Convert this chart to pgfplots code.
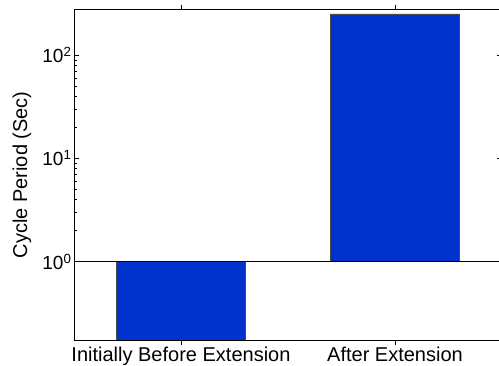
\documentclass[border=0pt]{standalone}
\usepackage{pgfplots}
\pgfplotsset{compat=1.18}
\usepackage{fontspec}
\setmainfont{Liberation Sans}
\begin{document}
\begin{tikzpicture}
\begin{axis}[
  scale only axis,
  width=428pt, height=330.5pt,
  ymode=log,
  ymin=0.1746, ymax=276,
  xmin=0.5, xmax=2.5,
  xtick={1,2},
  xticklabels={Initially Before Extension, After Extension},
  ytick={1,10,100},
  yticklabels={10\textsuperscript{0},10\textsuperscript{1},10\textsuperscript{2}},
  tick align=inside,
  major tick length=5pt,
  minor tick length=3pt,
  tick style={black, line width=0.5pt},
  axis line style={black, line width=0.9pt},
  xticklabel style={font=\fontsize{20}{22}\selectfont, yshift=2pt},
  yticklabel style={font=\fontsize{19}{22}\selectfont, xshift=1pt},
  ylabel={Cycle Period (Sec)},
  every axis y label/.style={at={(rel axis cs:0,0.5)}, rotate=90, anchor=center, yshift=52pt, font=\fontsize{20}{22}\selectfont},
  ybar, bar width=129pt,
  clip=true,
]
\addplot[ybar, draw=black!70, line width=0.5pt, fill={rgb,255:red,0;green,51;blue,204}] coordinates {(1,0.1) (2,250)};
\addplot[sharp plot, black, line width=0.7pt, forget plot] coordinates {(0.5,1) (2.5,1)};
\coordinate (sw) at (rel axis cs:0,0);
\coordinate (ne) at (rel axis cs:1,1);
\end{axis}
\pgfresetboundingbox
\path[use as bounding box] ([shift={(-74pt,-26pt)}]sw) rectangle ([shift={(-3pt,9.5pt)}]ne);
\end{tikzpicture}
\end{document}
